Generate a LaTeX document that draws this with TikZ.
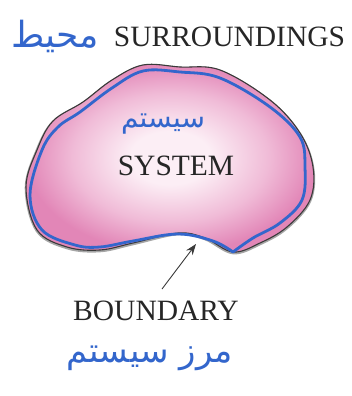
\documentclass[tikz,border=0pt]{standalone}
\usepackage{fontspec}
\setmainfont{Liberation Serif}
\newfontfamily\arabicfont[Script=Arabic]{DejaVu Sans}
\TeXXeTstate=1
\usetikzlibrary{arrows.meta}
\definecolor{pinkE}{HTML}{E286B7}
\definecolor{pinkM}{HTML}{F0BBD7}
\definecolor{pinkC}{HTML}{FCEEF5}
\definecolor{penblue}{HTML}{3366CC}
\definecolor{edgegray}{HTML}{3A3A3A}
\pgfdeclareradialshading{blobshade}{\pgfpoint{0bp}{0bp}}{%
  color(0bp)=(pinkC); color(7bp)=(pinkC); color(17bp)=(pinkM); color(25bp)=(pinkE); color(50bp)=(pinkE)}
\tikzset{
  label/.style={font=\fontsize{29.5}{30}\selectfont, inner sep=0pt, text=black!85},
  hand/.style={text=penblue, inner sep=0pt},
  pen/.style={draw=penblue, line width=2.8pt, line join=round, line cap=round},
  edge/.style={draw=edgegray, line width=1.1pt}
}
\begin{document}
\begin{tikzpicture}[x=1pt,y=-1pt]
\useasboundingbox (0,0) rectangle (352,396);
% soft shadow of the outline
\draw[black!35, line width=2.6pt] plot[smooth cycle, tension=0.6] coordinates {
  (26,188) (37,150) (53,122) (83,103) (112,81) (143,66) (180,68)
  (220,71) (270,101) (300,134) (313,168) (310,201) (287,228) (260,244)
  (233,253) (205,239) (178,234) (133,244) (100,251) (67,248) (37,231)};
% system blob
\path[shading=blobshade, edge]
  plot[smooth cycle, tension=0.6] coordinates {
  (26,187) (37,150) (53,121) (83,102) (112,80) (143,65) (180,67)
  (220,70) (270,100) (300,133) (313,167) (310,200) (287,227) (260,243)
  (233,252) (205,238) (178,233) (133,243) (100,250) (67,247) (37,230)};
% hand-drawn blue boundary
\draw[pen] plot[smooth, tension=0.6] coordinates {
  (233,252) (213,241) (178,234) (133,241) (100,247) (75,245) (42,230)
  (30,195) (42,150) (58,127) (80,112) (112,88) (143,71) (180,72)
  (220,78) (270,107) (300,137) (305,167) (302,200) (280,223) (253,238) (233,252)};
% labels
\node[label, anchor=base] (sur) at (229.5,47) {SURROUNDINGS};
\node[label, anchor=base] (sys) at (176,175) {SYSTEM};
\node[label, anchor=base] (bnd) at (156,320) {BOUNDARY};
\coordinate (btip) at (196,244);
\coordinate (btail) at (162,289);
\draw[edgegray, line width=0.9pt, -{Stealth[length=11pt,width=8pt]}] (btail) -- (btip);
% handwritten Persian notes
\node[hand, font=\arabicfont\fontsize{36}{36}\selectfont] (h1) at (55,36) {\beginR محیط\endR};
\node[hand, font=\arabicfont\fontsize{28}{28}\selectfont] (h2) at (163,124) {\beginR سیستم\endR};
\node[hand, font=\arabicfont\fontsize{34}{34}\selectfont] (h3) at (150,358) {\beginR مرز سیستم\endR};
\end{tikzpicture}
\end{document}
